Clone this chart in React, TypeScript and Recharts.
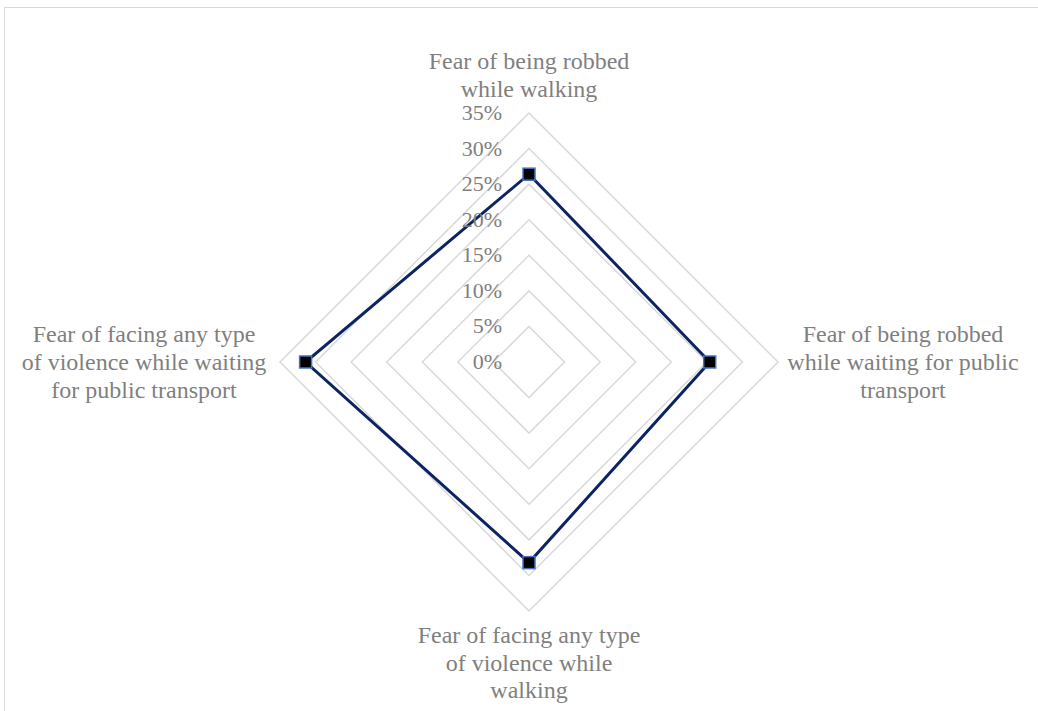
import React from "react";
import { RadarChart, Radar, PolarGrid, PolarAngleAxis, PolarRadiusAxis } from "recharts";

const categories = [
  "Fear of being robbed while walking",
  "Fear of being robbed while waiting for public transport",
  "Fear of facing any type of violence while walking",
  "Fear of facing any type of violence while waiting for public transport",
];
const categoryLines = [
  ["Fear of being robbed", "while walking"],
  ["Fear of being robbed", "while waiting for public", "transport"],
  ["Fear of facing any type", "of violence while", "walking"],
  ["Fear of facing any type", "of violence while waiting", "for public transport"],
];
const values = [26.4, 25.4, 28.2, 31.4];
const radiusTicks = [0, 5, 10, 15, 20, 25, 30, 35];

const data = categories.map((c, i) => ({ category: c, value: values[i] }));

const CX = 529;
const CY = 362;
const FONT = "'Liberation Serif', 'Times New Roman', serif";
const GRAY = "#7f7f7f";

const AngleTick = (props: any) => {
  const { x, y, payload } = props;
  const idx = categories.indexOf(payload.value);
  const lines = categoryLines[idx] || [payload.value];
  const n = lines.length;
  const lh = 28;
  let items: { tx: number; ty: number }[] = [];
  if (y < CY - 20) {
    items = lines.map((_, i) => ({ tx: x, ty: y - 8 - (n - 1 - i) * lh }));
  } else if (y > CY + 20) {
    items = lines.map((_, i) => ({ tx: x, ty: y + 24 + i * 27.5 }));
  } else if (x > CX) {
    items = lines.map((_, i) => ({ tx: x + 117, ty: y + 8 + (i - (n - 1) / 2) * lh }));
  } else {
    items = lines.map((_, i) => ({ tx: x - 128, ty: y + 8 + (i - (n - 1) / 2) * lh }));
  }
  return (
    <g>
      {lines.map((l, i) => (
        <text key={i} x={items[i].tx} y={items[i].ty} textAnchor="middle" fontFamily={FONT} fontSize={24} fill={GRAY}>
          {l}
        </text>
      ))}
    </g>
  );
};

const RadiusTick = (props: any) => {
  const { x, y, payload } = props;
  return (
    <text x={x - 27} y={y + 7} textAnchor="end" fontFamily={FONT} fontSize={22} fill={GRAY}>
      {`${payload.value}%`}
    </text>
  );
};

const SquareDot = (props: any) => {
  const { cx, cy } = props;
  return <rect x={cx - 6} y={cy - 6} width={12} height={12} fill="#000000" stroke="#4472c4" strokeWidth={1.5} />;
};

export default function App() {
  return (
    <div style={{ position: "absolute", left: 0, top: 0, width: 1038, height: 711, background: "#fff", overflow: "hidden" }}>
      <div style={{ position: "absolute", left: 4, top: 7, width: 1100, height: 800, border: "1px solid #d9d9d9", boxSizing: "border-box" }} />
      <div style={{ position: "absolute", left: 0, top: 0 }}>
        <RadarChart width={1038} height={711} data={data} cx={CX} cy={CY} outerRadius={249} margin={{ top: 0, right: 0, bottom: 0, left: 0 }}>
          <PolarGrid gridType="polygon" radialLines={false} stroke="#d9d9d9" strokeWidth={1.5} />
          <PolarAngleAxis dataKey="category" tick={<AngleTick />} axisLine={false} tickLine={false} />
          <PolarRadiusAxis angle={90} domain={[0, 35]} ticks={radiusTicks as any} tickCount={8} axisLine={false} tickLine={false} tick={<RadiusTick />} />
          <Radar dataKey="value" stroke="#0d2463" strokeWidth={3} fill="none" fillOpacity={0} dot={<SquareDot />} isAnimationActive={false} />
        </RadarChart>
      </div>
    </div>
  );
}
